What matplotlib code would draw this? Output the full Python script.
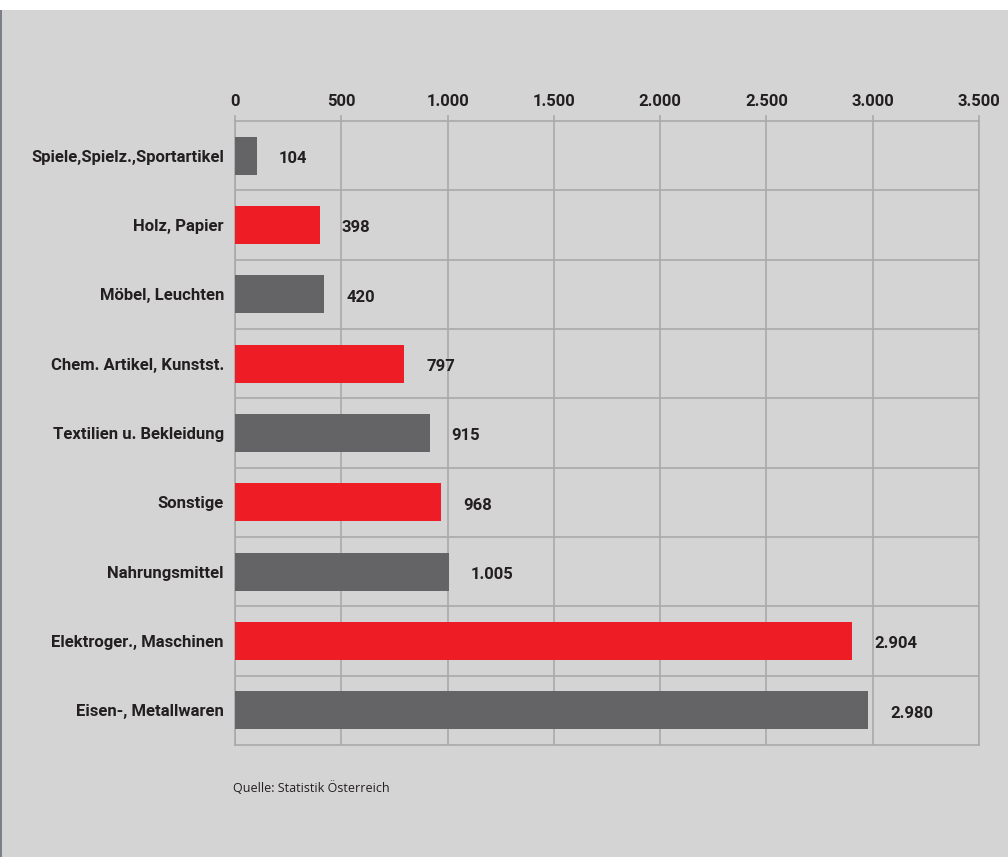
import matplotlib
matplotlib.use('Agg')
import matplotlib.pyplot as plt
from matplotlib.patches import Rectangle
from matplotlib.ticker import FuncFormatter

categories = ['Spiele,Spielz.,Sportartikel', 'Holz, Papier', 'Möbel, Leuchten',
              'Chem. Artikel, Kunstst.', 'Textilien u. Bekleidung', 'Sonstige',
              'Nahrungsmittel', 'Elektroger., Maschinen', 'Eisen-, Metallwaren']
values = [104, 398, 420, 797, 915, 968, 1005, 2904, 2980]
value_labels = ['104', '398', '420', '797', '915', '968', '1.005', '2.904', '2.980']
xticks = [0, 500, 1000, 1500, 2000, 2500, 3000, 3500]

GRAY = '#646466'
RED = '#ee1c25'
BG = '#d4d4d4'
GRID = '#a9a9a9'
TXT = '#231f20'
colors = [GRAY if i % 2 == 0 else RED for i in range(len(values))]

fig = plt.figure(figsize=(10.08, 8.57), dpi=100)
fig.patch.set_facecolor(BG)
# white strip on top, thin dark edge on the left
fig.patches.append(Rectangle((0, 1 - 10 / 857), 1, 10 / 857, transform=fig.transFigure,
                             facecolor='white', edgecolor='none', zorder=0))
fig.patches.append(Rectangle((0, 0), 2 / 1008, 1 - 10 / 857, transform=fig.transFigure,
                             facecolor='#7a7f8a', edgecolor='none', zorder=0))

ax = fig.add_axes([235 / 1008, 1 - 745 / 857, (979 - 235) / 1008, (745 - 121) / 857])
ax.set_facecolor(BG)

y = list(range(len(values)))
ax.barh(y, values, height=0.55, color=colors, zorder=3)

ax.set_xlim(0, 3500)
ax.set_ylim(len(values) - 0.5, -0.5)

for i, (v, lab) in enumerate(zip(values, value_labels)):
    ax.annotate(lab, (v, i), xytext=(22, -3), textcoords='offset pixels',
                ha='left', va='center', fontsize=12, fontweight='bold',
                family='Roboto', color=TXT)

ax.xaxis.tick_top()
ax.set_xticks(xticks)
ax.xaxis.set_major_formatter(FuncFormatter(lambda v, p: f'{int(v):,}'.replace(',', '.')))
ax.tick_params(axis='x', length=4, width=1.2, color=GRID, pad=5, labelsize=12,
               labelcolor=TXT)
for t in ax.get_xticklabels():
    t.set_fontweight('bold')
    t.set_family('Roboto')

ax.set_yticks(y)
ax.set_yticklabels(categories, fontsize=12, fontweight='bold', family='Roboto', color=TXT)
ax.tick_params(axis='y', length=0, pad=8)

ax.set_yticks([i + 0.5 for i in range(len(values) - 1)], minor=True)
ax.grid(True, axis='x', which='major', color=GRID, linewidth=1.2, zorder=1)
ax.grid(True, axis='y', which='minor', color=GRID, linewidth=1.2, zorder=1)
ax.tick_params(axis='y', which='minor', length=0)
for s in ax.spines.values():
    s.set_color(GRID)
    s.set_linewidth(1.2)

fig.text(233 / 1008, 1 - 788 / 857, 'Quelle: Statistik Österreich', family='Open Sans',
         fontsize=9, color=TXT, va='center', ha='left')

fig.savefig('out.png', dpi=100, facecolor=fig.get_facecolor())
